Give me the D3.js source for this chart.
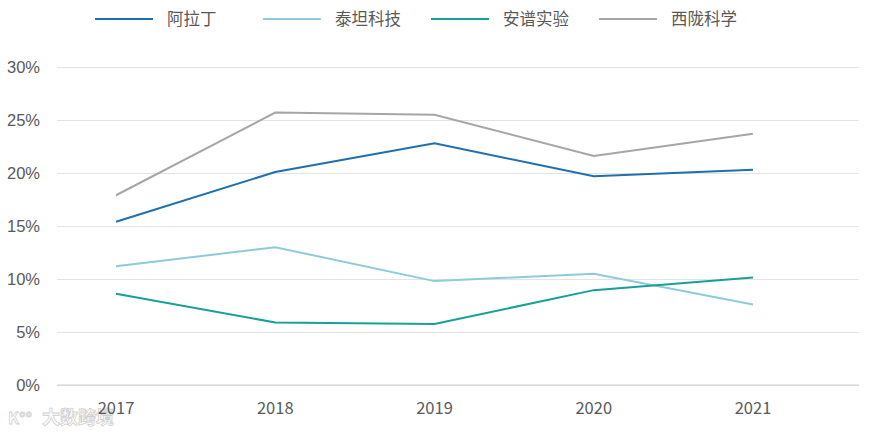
<!DOCTYPE html>
<html>
<head>
<meta charset="utf-8">
<title>毛利率对比</title>
<script src="https://cdn.jsdelivr.net/npm/d3@7/dist/d3.min.js"></script>
<style>
  body { margin: 0; background: #fff; }
  svg { font-family: "Noto Sans CJK SC", "Noto Sans", sans-serif; }
</style>
</head>
<body>
<div id="viz"></div>
<script>
// data (percent)
var years = ["2017", "2018", "2019", "2020", "2021"];
var names = ["阿拉丁", "泰坦科技", "安谱实验", "西陇科学"];
var colors = ["#1f6fae", "#8ecadc", "#17a097", "#a6a6a6"];
var aladdin = [15.4, 20.1, 22.8, 19.7, 20.3];
var titan = [11.2, 13.0, 9.8, 10.5, 7.6];
var anpu = [8.6, 5.9, 5.75, 8.95, 10.15];
var xilong = [17.9, 25.7, 25.5, 21.6, 23.7];
var yTicks = [0, 5, 10, 15, 20, 25, 30];

var series = [aladdin, titan, anpu, xilong];

var W = 869, H = 436;
var svg = d3.select("#viz").append("svg").attr("width", W).attr("height", H);

var x = d3.scaleLinear().domain([0, years.length - 1]).range([116, 753]);
var y = d3.scaleLinear().domain([0, 30]).range([385, 67]);

// watermark (drawn first so it sits behind everything)
svg.append("text").attr("x", 42).attr("y", 424)
  .attr("fill", "#fff").attr("stroke", "#cfcfcf").attr("stroke-width", 0.8)
  .style("font-size", "18px").style("font-weight", "bold")
  .text("大数跨境");
svg.append("text").attr("x", 8).attr("y", 424)
  .attr("fill", "#fff").attr("stroke", "#cfcfcf").attr("stroke-width", 0.8)
  .style("font-size", "16px").style("font-weight", "bold")
  .text("K°°");

// grid lines
var yAxis = d3.axisLeft(y).tickValues(yTicks).tickSize(-(859 - 57))
  .tickFormat(function(d) { return d + "%"; }).tickPadding(17);
var gy = svg.append("g").attr("transform", "translate(57,0)").call(yAxis);
gy.select(".domain").remove();
gy.selectAll(".tick line").attr("stroke", "#e3e3e3").attr("stroke-width", 1);
gy.selectAll(".tick text").attr("fill", "#595959").style("font-size", "16.5px");

// x axis
var gx = svg.append("g").attr("transform", "translate(0,385)");
gx.append("line").attr("x1", 57).attr("x2", 859).attr("stroke", "#d0d0d0").attr("stroke-width", 1.2);
gx.selectAll("text").data(years).enter().append("text")
  .attr("x", function(d, i) { return x(i); })
  .attr("y", 29)
  .attr("text-anchor", "middle")
  .attr("fill", "#595959")
  .style("font-size", "16.5px")
  .text(function(d) { return d; });

// lines
var line = d3.line().x(function(d, i) { return x(i); }).y(function(d) { return y(d); });
svg.selectAll("path.series").data(series).enter().append("path")
  .attr("class", "series")
  .attr("d", line)
  .attr("fill", "none")
  .attr("stroke", function(d, i) { return colors[i]; })
  .attr("stroke-width", 2);

// legend
var lg = svg.selectAll("g.leg").data(names).enter().append("g")
  .attr("class", "leg")
  .attr("transform", function(d, i) { return "translate(" + (95 + i * 168) + ",19)"; });
lg.append("line").attr("x1", 0).attr("x2", 58)
  .attr("stroke", function(d, i) { return colors[i]; }).attr("stroke-width", 2);
lg.append("text").attr("x", 72).attr("dy", "0.35em")
  .attr("fill", "#595959").style("font-size", "16.5px")
  .text(function(d) { return d; });
</script>
</body>
</html>
